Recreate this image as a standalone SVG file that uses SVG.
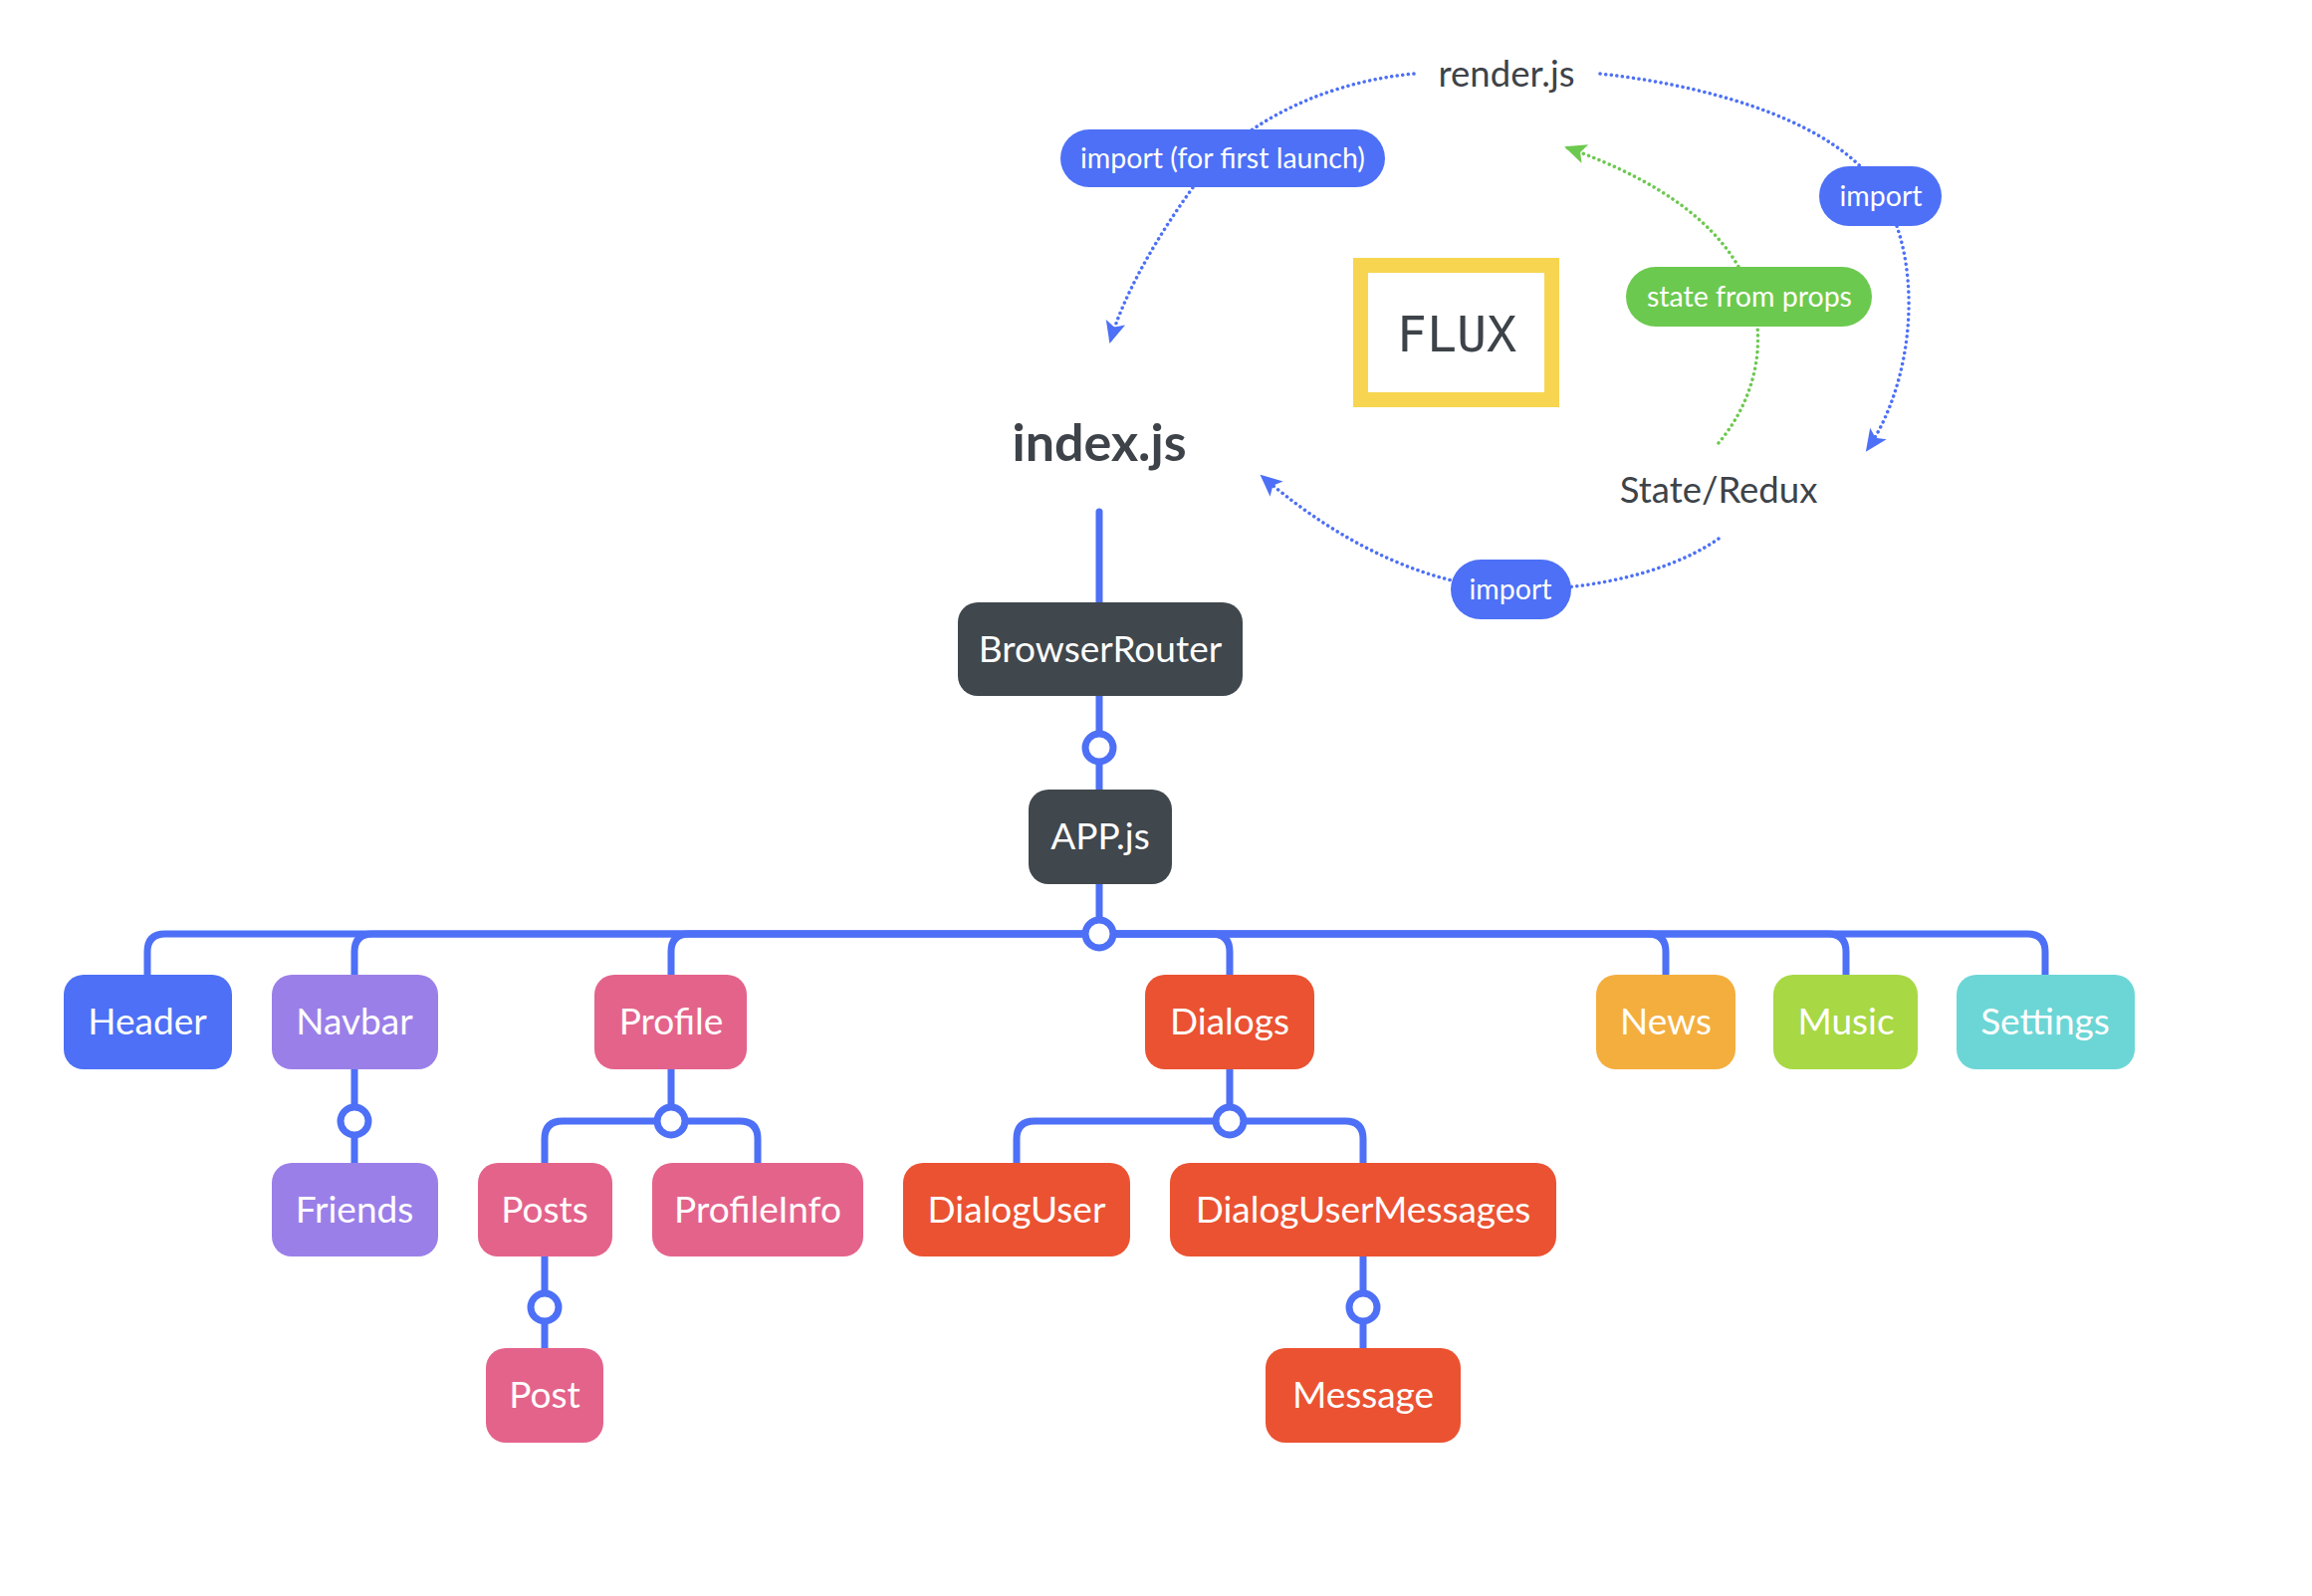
<svg xmlns="http://www.w3.org/2000/svg" width="2322" height="1603" viewBox="0 0 2322 1603">
<defs>
<style>
.n text{font-family:Lato,"Open Sans","Liberation Sans",sans-serif;font-size:37px;fill:#fff;text-anchor:middle}
.t{font-family:Lato,"Open Sans","Liberation Sans",sans-serif;fill:#3d4349;text-anchor:middle}
.pl text{font-family:Lato,"Open Sans","Liberation Sans",sans-serif;font-size:28.5px;fill:#fff;text-anchor:middle}
.br{fill:none;stroke:#4d70f6;stroke-width:7;stroke-linecap:round;stroke-linejoin:round}
.jc{fill:#fff;stroke:#4d70f6;stroke-width:7}
.dot{fill:none;stroke:#4d70f6;stroke-width:3.5;stroke-dasharray:0.1 5.5;stroke-linecap:round}
.dotg{fill:none;stroke:#6cc94f;stroke-width:3.5;stroke-dasharray:0.1 5.5;stroke-linecap:round}
</style>
<marker id="ab" viewBox="-2 -11 26 22" refX="20" refY="0" markerWidth="26" markerHeight="22" markerUnits="userSpaceOnUse" orient="auto">
<path d="M0,-10 L22,0 L0,10 L5,0 z" fill="#4d70f6"/>
</marker>
<marker id="ag" viewBox="-2 -11 26 22" refX="20" refY="0" markerWidth="26" markerHeight="22" markerUnits="userSpaceOnUse" orient="auto">
<path d="M0,-10 L22,0 L0,10 L5,0 z" fill="#6cc94f"/>
</marker>
</defs>
<rect width="2322" height="1603" fill="#fff"/>

<g id="connectors">
<path class="br" d="M1104,514 V605"/>
<path class="br" d="M1104,699 V793"/>
<path class="br" d="M1104,888 V938"/>
<path class="br" d="M1104,938 H166 Q148,938 148,956 V979"/>
<path class="br" d="M1104,938 H374 Q356,938 356,956 V979"/>
<path class="br" d="M1104,938 H692 Q674,938 674,956 V979"/>
<path class="br" d="M1104,938 H1217 Q1235,938 1235,956 V979"/>
<path class="br" d="M1104,938 H1655 Q1673,938 1673,956 V979"/>
<path class="br" d="M1104,938 H1836 Q1854,938 1854,956 V979"/>
<path class="br" d="M1104,938 H2036 Q2054,938 2054,956 V979"/>
<path class="br" d="M356,1074 V1168"/>
<path class="br" d="M674,1074 V1126"/>
<path class="br" d="M674,1126 H565 Q547,1126 547,1144 V1168"/>
<path class="br" d="M674,1126 H743 Q761,1126 761,1144 V1168"/>
<path class="br" d="M1235,1074 V1126"/>
<path class="br" d="M1235,1126 H1039 Q1021,1126 1021,1144 V1168"/>
<path class="br" d="M1235,1126 H1351 Q1369,1126 1369,1144 V1168"/>
<path class="br" d="M547,1262 V1354"/>
<path class="br" d="M1369,1262 V1354"/>
<circle class="jc" cx="1104" cy="751" r="14"/>
<circle class="jc" cx="1104" cy="938" r="14"/>
<circle class="jc" cx="356" cy="1126" r="14"/>
<circle class="jc" cx="674" cy="1126" r="14"/>
<circle class="jc" cx="1235" cy="1126" r="14"/>
<circle class="jc" cx="547" cy="1313" r="14"/>
<circle class="jc" cx="1369" cy="1313" r="14"/>
<path class="dot" marker-end="url(#ab)" d="M1420,74 C1316,84 1236,134 1202,183 C1162,237 1128,297 1115,343"/>
<path class="dot" marker-end="url(#ab)" d="M1607,74 C1741,89 1840,129 1880,180 C1935,250 1925,380 1875,452"/>
<path class="dotg" marker-end="url(#ag)" d="M1726,445 C1771,391 1775,326 1751,277 C1726,227 1672,183 1573,148"/>
<path class="dot" marker-end="url(#ab)" d="M1726,541 C1672,579 1583,594 1517,592 C1414,586 1326,529 1267,478"/>
</g>

<g id="render-js"><text class="t" x="1513" y="87" font-size="36.5">render.js</text></g>
<g id="state-redux"><text class="t" x="1726" y="505" font-size="36.5">State/Redux</text></g>
<g id="index-js"><text class="t" x="1104" y="463" font-size="52" font-weight="bold">index.js</text></g>

<g id="flux">
<rect x="1366.5" y="266.5" width="192" height="135" fill="#fff" stroke="#f7d550" stroke-width="15"/>
<text x="1463" y="353" font-family="'DejaVu Sans Mono','Liberation Mono',monospace" font-size="50" fill="#3d4349" text-anchor="middle">FLUX</text>
</g>

<g id="lbl-first-launch" class="pl"><rect x="1065" y="130" width="326" height="58" rx="29" fill="#4d70f6"/><text x="1228" y="169">import (for first launch)</text></g>
<g id="lbl-import-right" class="pl"><rect x="1827" y="167" width="123" height="60" rx="30" fill="#4d70f6"/><text x="1889" y="207">import</text></g>
<g id="lbl-state-props" class="pl"><rect x="1633" y="268" width="247" height="60" rx="30" fill="#6cc94f"/><text x="1757" y="308">state from props</text></g>
<g id="lbl-import-bottom" class="pl"><rect x="1457" y="562" width="121" height="60" rx="30" fill="#4d70f6"/><text x="1517" y="602">import</text></g>

<g id="BrowserRouter" class="n"><rect x="962" y="605" width="286" height="94" rx="20" fill="#40474d"/><text x="1105" y="665">BrowserRouter</text></g>
<g id="APP" class="n"><rect x="1033" y="793" width="144" height="95" rx="20" fill="#40474d"/><text x="1105" y="853">APP.js</text></g>

<g id="Header" class="n"><rect x="64" y="979" width="169" height="95" rx="20" fill="#4d70f6"/><text x="148" y="1039">Header</text></g>
<g id="Navbar" class="n"><rect x="273" y="979" width="167" height="95" rx="20" fill="#9b7fe9"/><text x="356" y="1039">Navbar</text></g>
<g id="Profile" class="n"><rect x="597" y="979" width="153" height="95" rx="20" fill="#e4638b"/><text x="674" y="1039">Profile</text></g>
<g id="Dialogs" class="n"><rect x="1150" y="979" width="170" height="95" rx="20" fill="#eb5232"/><text x="1235" y="1039">Dialogs</text></g>
<g id="News" class="n"><rect x="1603" y="979" width="140" height="95" rx="20" fill="#f4ae3e"/><text x="1673" y="1039">News</text></g>
<g id="Music" class="n"><rect x="1781" y="979" width="145" height="95" rx="20" fill="#a8d844"/><text x="1854" y="1039">Music</text></g>
<g id="Settings" class="n"><rect x="1965" y="979" width="179" height="95" rx="20" fill="#6cd6d6"/><text x="2054" y="1039">Settings</text></g>

<g id="Friends" class="n"><rect x="273" y="1168" width="167" height="94" rx="20" fill="#9b7fe9"/><text x="356" y="1228">Friends</text></g>
<g id="Posts" class="n"><rect x="480" y="1168" width="135" height="94" rx="20" fill="#e4638b"/><text x="547" y="1228">Posts</text></g>
<g id="ProfileInfo" class="n"><rect x="655" y="1168" width="212" height="94" rx="20" fill="#e4638b"/><text x="761" y="1228">ProfileInfo</text></g>
<g id="DialogUser" class="n"><rect x="907" y="1168" width="228" height="94" rx="20" fill="#eb5232"/><text x="1021" y="1228">DialogUser</text></g>
<g id="DialogUserMessages" class="n"><rect x="1175" y="1168" width="388" height="94" rx="20" fill="#eb5232"/><text x="1369" y="1228">DialogUserMessages</text></g>

<g id="Post" class="n"><rect x="488" y="1354" width="118" height="95" rx="20" fill="#e4638b"/><text x="547" y="1414">Post</text></g>
<g id="Message" class="n"><rect x="1271" y="1354" width="196" height="95" rx="20" fill="#eb5232"/><text x="1369" y="1414">Message</text></g>
</svg>
